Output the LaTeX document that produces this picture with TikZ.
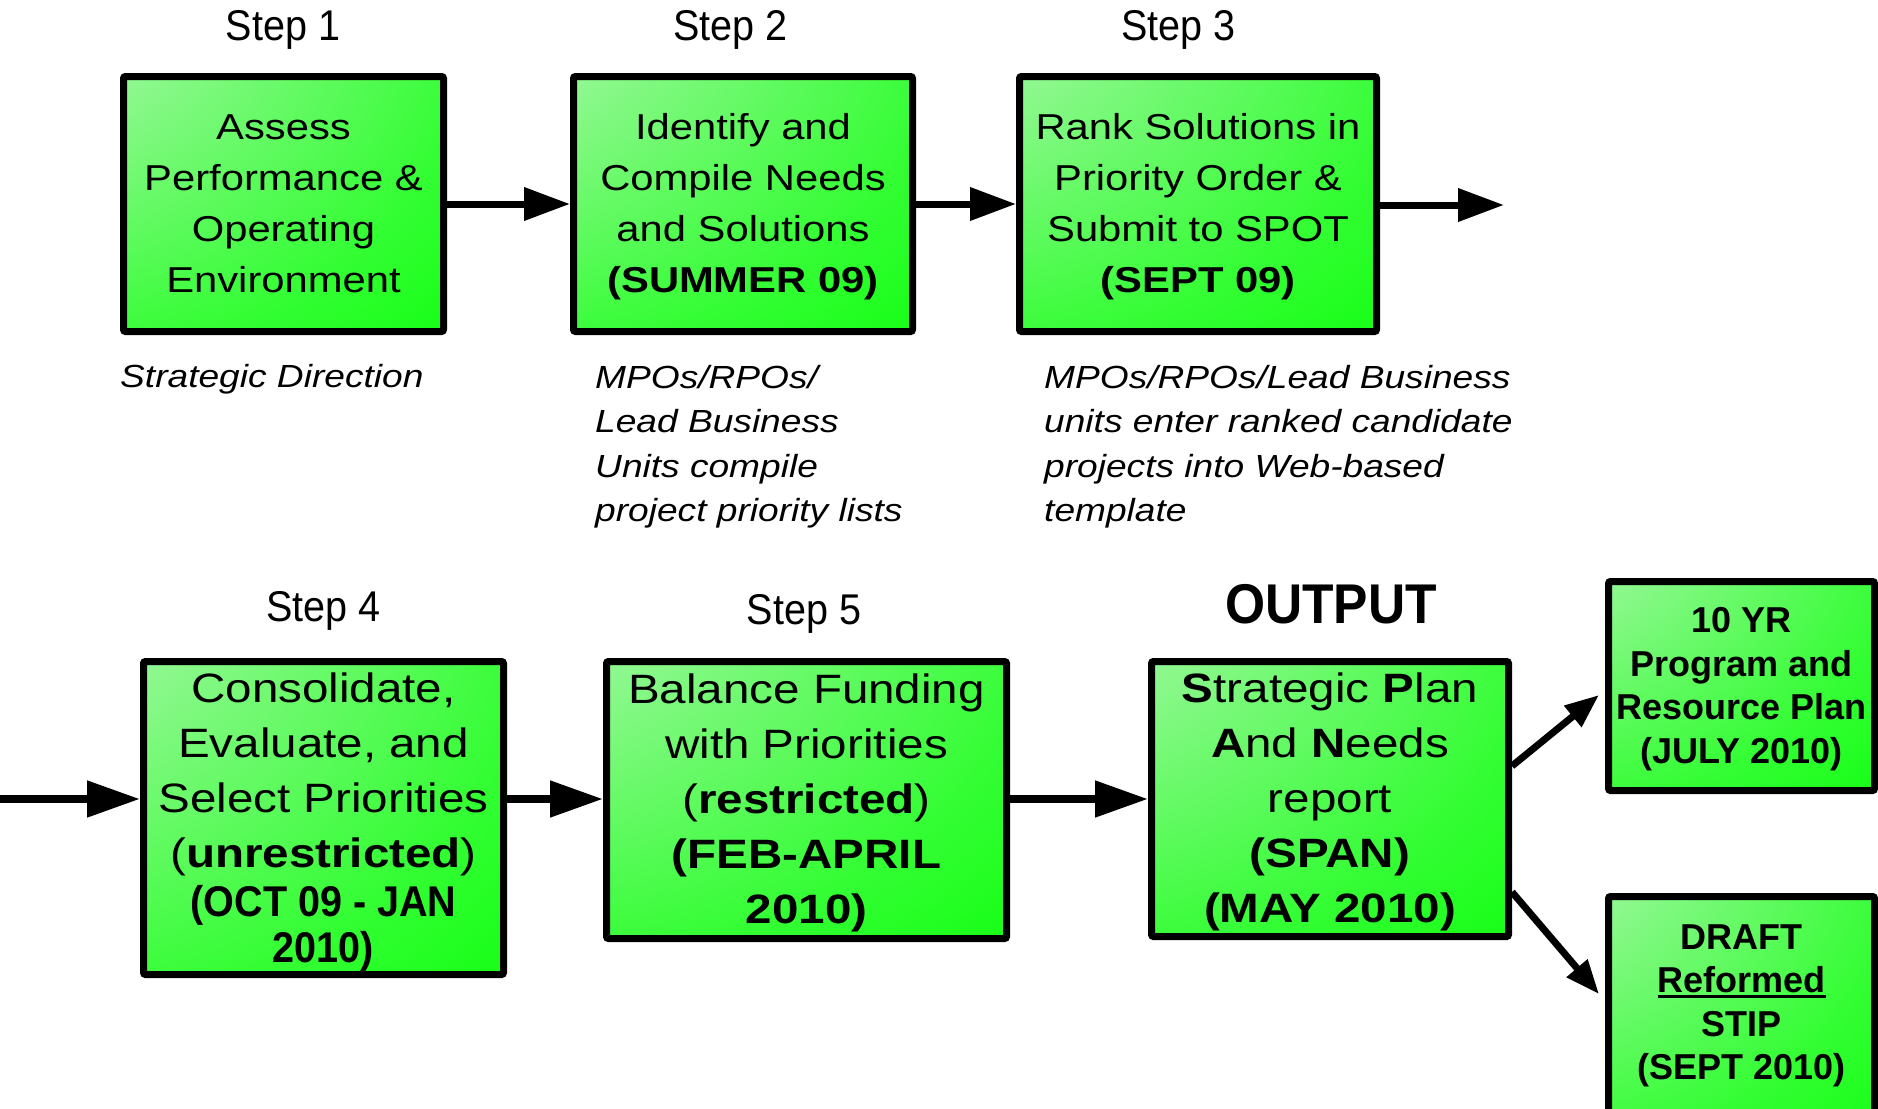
\documentclass[tikz,border=0pt]{standalone}
\usepackage{fontspec}
\setmainfont{Liberation Sans}
\newfontfamily\widef[FakeStretch=1.16]{Liberation Sans}
\newfontfamily\narrowf[FakeStretch=0.92]{Liberation Sans}
\usetikzlibrary{arrows.meta}
\definecolor{gA}{HTML}{E2EFEA}
\definecolor{gB}{HTML}{B8F4C0}
\definecolor{gC}{HTML}{88F888}
\definecolor{gD}{HTML}{60FA60}
\definecolor{gE}{HTML}{34FD34}
\definecolor{gF}{HTML}{10FF10}
\definecolor{gG}{HTML}{00FF00}
\pgfdeclareradialshading{boxglow}{\pgfpoint{-50bp}{50bp}}{color(0bp)=(gA); color(14bp)=(gB); color(34bp)=(gC); color(52bp)=(gD); color(72bp)=(gE); color(95bp)=(gF); color(120bp)=(gG); color(400bp)=(gG)}
\newcommand\ulr[1]{\setbox0=\hbox{#1}\rlap{\rule[-5pt]{\wd0}{3pt}}\box0}
\newcommand\lift[1]{\rule{0pt}{#1}}
\tikzset{
  box/.style={draw=black, line width=7pt, rounded corners=2pt, shading=boxglow, inner sep=0pt, align=center},
  topfont/.style={font=\widef\fontsize{36}{51}\selectfont},
  botfont/.style={font=\widef\fontsize{41}{55}\selectfont},
  sidefont/.style={font=\bfseries\fontsize{36}{43.5}\selectfont},
  steplbl/.style={font=\narrowf\fontsize{43}{50}\selectfont, inner sep=0pt, anchor=base},
  note/.style={font=\widef\itshape\fontsize{32}{44.5}\selectfont, align=left, inner sep=0pt, anchor=north west},
  arr/.style={line width=7pt, -{Triangle[length=46pt,width=32pt]}},
  arrB/.style={line width=8pt, -{Triangle[length=53pt,width=35pt]}},
  arrD/.style={line width=7pt, -{Triangle[length=34pt,width=26pt]}}
}
\begin{document}
\begin{tikzpicture}[x=1pt,y=-1pt]
\useasboundingbox (0,0) rectangle (1878,1108);
% step labels
\node[steplbl] (s1) at (283,40.7) {Step 1};
\node[steplbl] (s2) at (730.6,40.7) {Step 2};
\node[steplbl] (s3) at (1178.5,40.7) {Step 3};
\node[steplbl] (s4) at (323.4,621.6) {Step 4};
\node[steplbl] (s5) at (804,624) {Step 5};
\node[steplbl, font=\narrowf\bfseries\fontsize{56}{60}\selectfont] (outlbl) at (1331,623) {OUTPUT};
% top row boxes
\node[box, topfont, minimum width=320pt, minimum height=255pt] (b1) at (283.5,204)
  {Assess\\Performance \&\\Operating\\Environment};
\node[box, topfont, minimum width=339pt, minimum height=255pt] (b2) at (743,204)
  {\lift{31pt}Identify and\\Compile Needs\\and Solutions\\\textbf{(SUMMER 09)}};
\node[box, topfont, minimum width=357pt, minimum height=255pt] (b3) at (1198,204)
  {\lift{31pt}Rank Solutions in\\Priority Order \&\\Submit to SPOT\\\textbf{(SEPT 09)}};
% notes
\node[note] (n1) at (120,364) {Strategic Direction};
\node[note] (n2) at (595,365) {MPOs/RPOs/\\Lead Business\\Units compile\\project priority lists};
\node[note] (n3) at (1044,365) {MPOs/RPOs/Lead Business\\units enter ranked candidate\\projects into Web-based\\template};
% bottom row boxes
\node[box, botfont, minimum width=360pt, minimum height=313pt] (b4) at (323.5,818)
  {\lift{38pt}Consolidate,\\Evaluate, and\\Select Priorities\\(\textbf{unrestricted})\\[-6pt]{\narrowf\bfseries\fontsize{43}{46}\selectfont (OCT 09 - JAN}\\[-9pt]{\narrowf\bfseries\fontsize{43}{46}\selectfont 2010)}};
\node[box, botfont, minimum width=400pt, minimum height=277pt] (b5) at (806.5,800)
  {\lift{35pt}Balance Funding\\with Priorities\\(\textbf{restricted})\\\textbf{(FEB-APRIL}\\\textbf{2010)}};
\node[box, botfont, minimum width=357pt, minimum height=275pt] (out) at (1330,799)
  {\lift{36pt}\textbf{S}trategic \textbf{P}lan\\\textbf{A}nd \textbf{N}eeds\\report\\\textbf{(SPAN)}\\\textbf{(MAY 2010)}};
\node[box, sidefont, minimum width=266pt, minimum height=209pt] (ten) at (1741.5,686)
  {\lift{31pt}10 YR\\Program and\\Resource Plan\\(JULY 2010)};
\node[box, minimum width=266pt, minimum height=233.5pt] (draft) at (1741.5,1013.25) {};
\node[sidefont, align=center, inner sep=0pt] (drafttxt) at (1741.5,1006)
  {DRAFT\\\ulr{Reformed}\\STIP\\(SEPT 2010)};
% connectors
\coordinate (c3) at (1504,205);
\coordinate (c4) at (0,799);
\coordinate (s7) at (0,766);
\coordinate (t7) at (1599,695);
\coordinate (s8) at (0,892);
\coordinate (t8) at (1599,994);
\draw[arr] (b1) -- (b2);
\draw[arr] (b2) -- (b3);
\draw[arr] (b3.east |- c3) -- (c3);
\draw[arrB] (c4) -- (c4 -| b4.west);
\draw[arrB] (b4.east |- c4) -- (c4 -| b5.west);
\draw[arrB] (b5.east |- c4) -- (c4 -| out.west);
\draw[arrD] (out.east |- s7) -- (t7);
\draw[arrD] (out.east |- s8) -- (t8);
\end{tikzpicture}
\end{document}
